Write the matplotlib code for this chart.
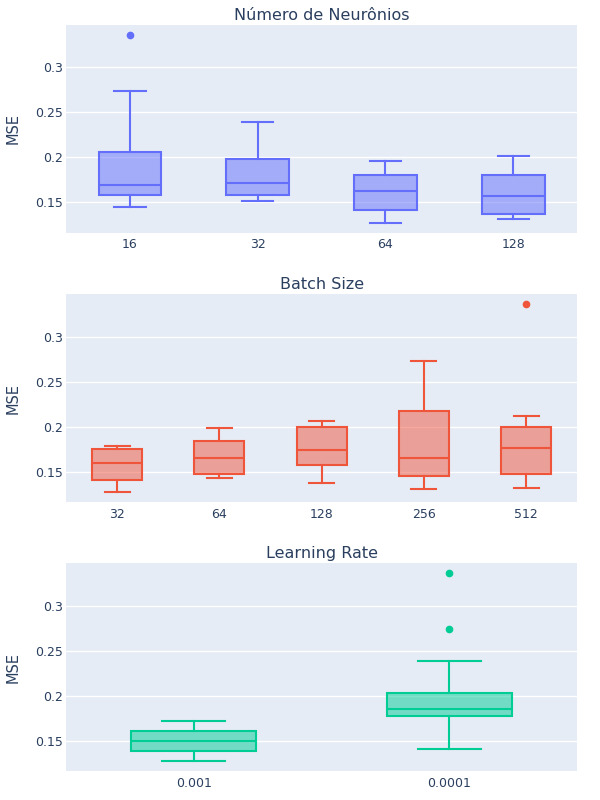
import matplotlib
matplotlib.use("Agg")
import matplotlib.pyplot as plt
from matplotlib.colors import to_rgba

plt.rcParams['font.family'] = ['DejaVu Sans']

# box statistics (q1, median, q3, whiskers, outliers)
neur_labels = ['16', '32', '64', '128']
neur_q1 = [0.1585, 0.1585, 0.1411, 0.1367]
neur_med = [0.1696, 0.1718, 0.1625, 0.1567]
neur_q3 = [0.2063, 0.1978, 0.1803, 0.1810]
neur_lo = [0.1445, 0.1515, 0.1271, 0.1319]
neur_hi = [0.2738, 0.2393, 0.1963, 0.2018]
neur_out = [[0.3358], [], [], []]

batch_labels = ['32', '64', '128', '256', '512']
batch_q1 = [0.1404, 0.1478, 0.1574, 0.1456, 0.1474]
batch_med = [0.1592, 0.1648, 0.1744, 0.1655, 0.1759]
batch_q3 = [0.1755, 0.1840, 0.2000, 0.2177, 0.1993]
batch_lo = [0.1275, 0.1433, 0.1370, 0.1304, 0.1319]
batch_hi = [0.1785, 0.1982, 0.2067, 0.2731, 0.2122]
batch_out = [[], [], [], [], [0.3359]]

lr_labels = ['0.001', '0.0001']
lr_q1 = [0.1385, 0.1778]
lr_med = [0.1500, 0.1852]
lr_q3 = [0.1604, 0.2037]
lr_lo = [0.1274, 0.1411]
lr_hi = [0.1718, 0.2389]
lr_out = [[], [0.3363, 0.2737]]

yticks = [0.15, 0.2, 0.25, 0.3]
ytick_labels = ['0.15', '0.2', '0.25', '0.3']

BG = '#e5ecf6'
TXT = '#2a3f5f'


def make_stats(labels, q1, med, q3, lo, hi, out):
    stats = []
    for i in range(len(labels)):
        stats.append({'label': labels[i], 'q1': q1[i], 'med': med[i], 'q3': q3[i],
                      'whislo': lo[i], 'whishi': hi[i], 'fliers': out[i]})
    return stats


def draw_panel(ax, title, stats, color):
    n = len(stats)
    pos = list(range(n))
    lw = 1.5
    ax.bxp(stats, positions=pos, widths=0.49, capwidths=0.245,
           patch_artist=True, manage_ticks=False,
           boxprops=dict(facecolor=to_rgba(color, 0.5), edgecolor=color, linewidth=lw),
           whiskerprops=dict(color=color, linewidth=lw),
           capprops=dict(color=color, linewidth=lw),
           medianprops=dict(color=color, linewidth=lw),
           flierprops=dict(marker='o', markerfacecolor=color, markeredgecolor=color,
                           markersize=4.5, linestyle='none'))
    ax.set_facecolor(BG)
    ax.set_xlim(-0.5, n - 0.5)
    ax.set_ylim(0.1163, 0.3473)
    ax.set_xticks(pos)
    ax.set_xticklabels([s['label'] for s in stats])
    ax.set_yticks(yticks)
    ax.set_yticklabels(ytick_labels)
    ax.grid(axis='y', color='white', linewidth=1.0)
    ax.set_axisbelow(True)
    for sp in ax.spines.values():
        sp.set_visible(False)
    ax.tick_params(axis='both', length=0, labelsize=9, colors=TXT)
    ax.tick_params(axis='y', pad=2.5)
    ax.tick_params(axis='x', pad=4)
    ax.set_ylabel('MSE', fontsize=10.5, color=TXT, labelpad=10)
    ax.set_title(title, fontsize=11.5, color=TXT, pad=3.5)


fig = plt.figure(figsize=(6, 8), dpi=100)
left, width = 0.11, 0.852
ax1 = fig.add_axes([left, 0.709, width, 0.260])
ax2 = fig.add_axes([left, 0.3725, width, 0.260])
ax3 = fig.add_axes([left, 0.036, width, 0.260])

draw_panel(ax1, 'Número de Neurônios',
           make_stats(neur_labels, neur_q1, neur_med, neur_q3, neur_lo, neur_hi, neur_out), '#636efa')
draw_panel(ax2, 'Batch Size',
           make_stats(batch_labels, batch_q1, batch_med, batch_q3, batch_lo, batch_hi, batch_out), '#EF553B')
draw_panel(ax3, 'Learning Rate',
           make_stats(lr_labels, lr_q1, lr_med, lr_q3, lr_lo, lr_hi, lr_out), '#00cc96')

fig.savefig('out.png', dpi=100, facecolor='white')
